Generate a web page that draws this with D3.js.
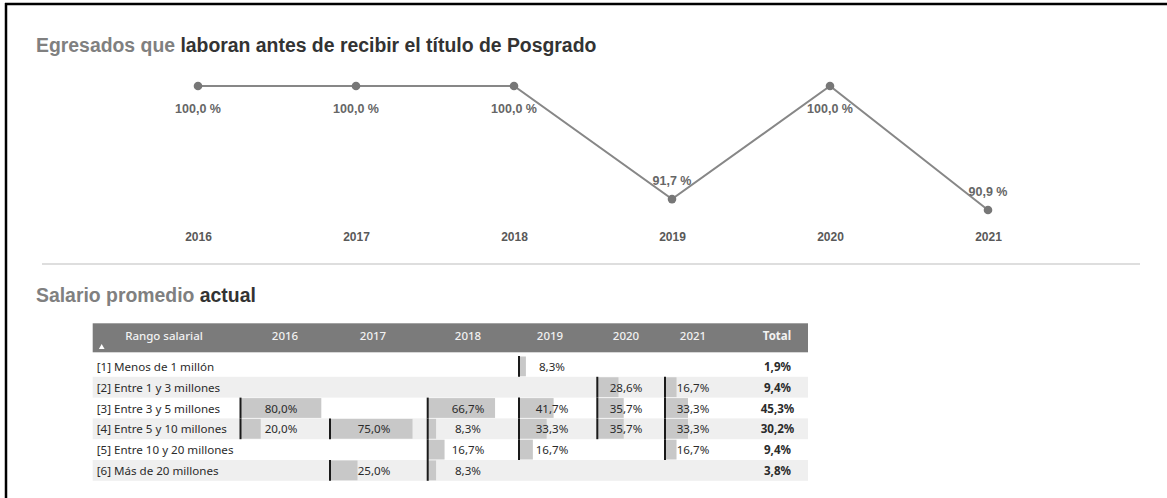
<!DOCTYPE html>
<html>
<head>
<meta charset="utf-8">
<script src="https://cdn.jsdelivr.net/npm/d3@7"></script>
<style>
  body { margin: 0; background: #fff; }
  svg { display: block; }
</style>
</head>
<body>
<script>
// data
const years = ['2016', '2017', '2018', '2019', '2020', '2021'];
const pctWorking = [100, 100, 100, 91.7, 100, 90.9];

const ranges = [
  '[1] Menos de 1 millón',
  '[2] Entre 1 y 3 millones',
  '[3] Entre 3 y 5 millones',
  '[4] Entre 5 y 10 millones',
  '[5] Entre 10 y 20 millones',
  '[6] Más de 20 millones'
];
const sal2016 = [null, null, 80.0, 20.0, null, null];
const sal2017 = [null, null, null, 75.0, null, 25.0];
const sal2018 = [null, null, 66.7, 8.3, 16.7, 8.3];
const sal2019 = [8.3, null, 41.7, 33.3, 16.7, null];
const sal2020 = [null, 28.6, 35.7, 35.7, null, null];
const sal2021 = [null, 16.7, 33.3, 33.3, 16.7, null];
const salTotal = [1.9, 9.4, 45.3, 30.2, 9.4, 3.8];
const tableHeaders = ['Rango salarial', '2016', '2017', '2018', '2019', '2020', '2021', 'Total'];

const W = 1167, H = 498;
const locale = d3.formatLocale({ decimal: ',', thousands: '.', grouping: [3], currency: ['', ''] });
const fmt1 = locale.format('.1f');

const svg = d3.select('body').append('svg')
  .attr('width', W)
  .attr('height', H);

// frame (top + left only)
svg.append('line').attr('x1', 5).attr('x2', W).attr('y1', 4).attr('y2', 4)
  .attr('stroke', '#000').attr('stroke-width', 2.5);
svg.append('line').attr('x1', 6).attr('x2', 6).attr('y1', 3).attr('y2', H)
  .attr('stroke', '#000').attr('stroke-width', 2.5);

const titleFont = '"Liberation Sans", Arial, sans-serif';

const title1 = svg.append('text')
  .attr('x', 36).attr('y', 52)
  .attr('font-family', titleFont).attr('font-size', 19.4).attr('font-weight', 'bold');
title1.append('tspan').attr('fill', '#808080').text('Egresados que ');
title1.append('tspan').attr('fill', '#333').text('laboran antes de recibir el título de Posgrado');

// ---- line chart ----
const x = d3.scalePoint().domain(years).range([198, 988]);
const y = d3.scaleLinear().domain([d3.min(pctWorking), d3.max(pctWorking)]).range([210, 86]);

const pts = years.map((yr, i) => ({ yr, v: pctWorking[i] }));

const line = d3.line().x(d => x(d.yr)).y(d => y(d.v));
svg.append('path')
  .datum(pts)
  .attr('d', line)
  .attr('fill', 'none')
  .attr('stroke', '#878787')
  .attr('stroke-width', 2);

svg.selectAll('circle.pt')
  .data(pts)
  .enter().append('circle')
  .attr('class', 'pt')
  .attr('cx', d => x(d.yr))
  .attr('cy', d => y(d.v))
  .attr('r', 4.3)
  .attr('fill', '#777');

svg.selectAll('text.lbl')
  .data(pts)
  .enter().append('text')
  .attr('class', 'lbl')
  .attr('x', d => x(d.yr))
  .attr('y', d => d.v >= 100 ? y(d.v) + 23 : y(d.v) - 18)
  .attr('text-anchor', 'middle')
  .attr('dominant-baseline', 'central')
  .attr('font-family', titleFont).attr('font-size', 12.5).attr('font-weight', 'bold')
  .attr('fill', '#666')
  .text(d => fmt1(d.v) + ' %');

const xAxis = svg.append('g')
  .attr('transform', 'translate(0,237)')
  .call(d3.axisBottom(x).tickSize(0).tickPadding(0));
xAxis.select('.domain').remove();
xAxis.selectAll('text')
  .attr('dy', '0.35em')
  .attr('font-family', titleFont).attr('font-size', 12).attr('font-weight', 'bold')
  .attr('fill', '#595959');

// separator
svg.append('line').attr('x1', 42).attr('x2', 1140).attr('y1', 264).attr('y2', 264)
  .attr('stroke', '#dedede').attr('stroke-width', 2);

const title2 = svg.append('text')
  .attr('x', 36).attr('y', 302)
  .attr('font-family', titleFont).attr('font-size', 19.4).attr('font-weight', 'bold');
title2.append('tspan').attr('fill', '#808080').text('Salario promedio ');
title2.append('tspan').attr('fill', '#333').text('actual');

// ---- table ----
const tblFont = '"Segoe UI", "Noto Sans", sans-serif';
const tLeft = 92.7, tRight = 808;
const headTop = 323.3, headH = 29;
const rowTop = 356, rowH = 20.8;

// column layout: bar axis start, text centre, pixels for 100 %
const colX0 = [240.5, 330, 427.7, 519, 597.3, 665];
const colMid = [281, 374, 468, 552, 626, 693, 777.5];
const headMid = [164, 285, 373, 468, 550, 626, 693, 777];
const col100 = [101, 110, 101, 83, 74, 69];
const series = [sal2016, sal2017, sal2018, sal2019, sal2020, sal2021];

svg.append('rect')
  .attr('x', tLeft).attr('y', headTop)
  .attr('width', tRight - tLeft).attr('height', headH)
  .attr('fill', '#7b7b7b');

svg.selectAll('text.head')
  .data(tableHeaders)
  .enter().append('text')
  .attr('class', 'head')
  .attr('x', (d, i) => headMid[i])
  .attr('y', headTop + 12)
  .attr('text-anchor', 'middle')
  .attr('dominant-baseline', 'central')
  .attr('font-family', tblFont).attr('font-size', 11.5)
  .attr('font-weight', (d, i) => i === 7 ? 'bold' : 500)
  .attr('fill', '#f2f2f2')
  .text(d => d);

// sort arrow
svg.append('path')
  .attr('d', d3.symbol().type(d3.symbolTriangle).size(14)())
  .attr('transform', `translate(101.7,${headTop + headH - 5})`)
  .attr('fill', '#fff');

const rowY = d3.scaleLinear().domain([0, 1]).range([rowTop, rowTop + rowH]);

svg.selectAll('rect.band')
  .data(ranges.map((r, i) => i).filter(i => i % 2 === 1))
  .enter().append('rect')
  .attr('class', 'band')
  .attr('x', tLeft).attr('y', i => rowY(i))
  .attr('width', tRight - tLeft).attr('height', rowH)
  .attr('fill', '#efefef');

svg.selectAll('text.rng')
  .data(ranges)
  .enter().append('text')
  .attr('class', 'rng')
  .attr('x', 96.7)
  .attr('y', (d, i) => rowY(i) + rowH / 2)
  .attr('dominant-baseline', 'central')
  .attr('font-family', tblFont).attr('font-size', 11.6)
  .attr('fill', '#2b2b2b')
  .text(d => d);

series.forEach((vals, c) => {
  const bx = d3.scaleLinear().domain([0, 100]).range([0, col100[c]]);
  const cells = vals.map((v, r) => ({ v, r })).filter(d => d.v != null);
  const g = svg.append('g');
  g.selectAll('rect')
    .data(cells)
    .enter().append('rect')
    .attr('x', colX0[c])
    .attr('y', d => rowY(d.r) + 0.5)
    .attr('width', d => bx(d.v))
    .attr('height', rowH - 1)
    .attr('fill', '#c8c8c8');
  g.selectAll('line')
    .data(cells)
    .enter().append('line')
    .attr('x1', colX0[c]).attr('x2', colX0[c])
    .attr('y1', d => rowY(d.r)).attr('y2', d => rowY(d.r + 1))
    .attr('stroke', '#1a1a1a').attr('stroke-width', 2);
  g.selectAll('text')
    .data(cells)
    .enter().append('text')
    .attr('x', colMid[c])
    .attr('y', d => rowY(d.r) + rowH / 2)
    .attr('text-anchor', 'middle')
    .attr('dominant-baseline', 'central')
    .attr('font-family', tblFont).attr('font-size', 11.6)
    .attr('fill', '#2b2b2b')
    .text(d => fmt1(d.v) + '%');
});

svg.selectAll('text.tot')
  .data(salTotal)
  .enter().append('text')
  .attr('class', 'tot')
  .attr('x', colMid[6])
  .attr('y', (d, i) => rowY(i) + rowH / 2)
  .attr('text-anchor', 'middle')
  .attr('dominant-baseline', 'central')
  .attr('font-family', tblFont).attr('font-size', 11.6).attr('font-weight', 'bold')
  .attr('fill', '#2b2b2b')
  .text(d => fmt1(d) + '%');
</script>
</body>
</html>
